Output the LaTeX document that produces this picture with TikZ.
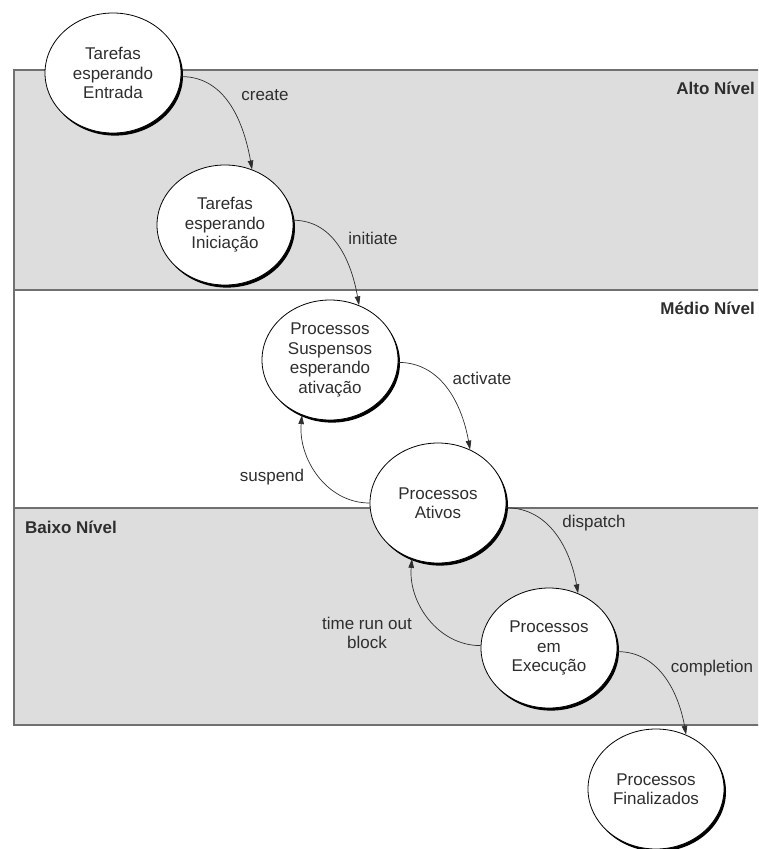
\documentclass[tikz,border=0pt]{standalone}
\usepackage{fontspec}
\setmainfont{Liberation Sans}
\usetikzlibrary{shapes.geometric,arrows.meta,shadows}
\definecolor{bandgray}{HTML}{DDDDDD}
\definecolor{rulegray}{HTML}{707070}
\definecolor{ink}{HTML}{2E2E2E}

\tikzset{
  state/.style={ellipse, draw=black, line width=0.8pt, fill=white,
    minimum width=136pt, minimum height=120pt, inner sep=0pt,
    align=center, text=ink, font=\fontsize{17}{19.5}\selectfont,
    drop shadow={shadow xshift=2pt, shadow yshift=-2.6pt, opacity=1, fill=black}},
  conn/.style={draw=ink, line width=0.7pt, -{Triangle[length=9pt,width=5.5pt]}},
  lab/.style={text=ink, inner sep=0pt, align=center, font=\fontsize{17}{19}\selectfont},
  level/.style={text=ink, inner sep=0pt, font=\fontsize{17}{19}\selectfont\bfseries},
  bandrule/.style={draw=rulegray, line width=1.6pt}
}

\begin{document}
\begin{tikzpicture}[x=1pt, y=-1pt]
  \useasboundingbox (0,0) rectangle (758,849);
  \clip (0,0) rectangle (758,849);

  % the three levels
  \fill[bandgray] (14,70) rectangle (770,290);
  \fill[bandgray] (14,508) rectangle (770,725);
  \draw[bandrule] (770,70) -- (14,70) -- (14,725) -- (770,725);
  \draw[bandrule] (14,290) -- (770,290);
  \draw[bandrule] (14,508) -- (770,508);

  \node[level, anchor=east] (alto)  at (755,88)  {Alto Nível};
  \node[level, anchor=east] (medio) at (755,308) {Médio Nível};
  \node[level, anchor=west] (baixo) at (25,527)  {Baixo Nível};

  % states
  \node[state] (entrada)  at (113,73)  {Tarefas\\esperando\\Entrada};
  \node[state] (inicia)   at (225,225) {Tarefas\\esperando\\Iniciação};
  \node[state] (suspenso) at (330,360) {Processos\\Suspensos\\esperando\\ativação};
  \node[state] (ativo)    at (438,503) {Processos\\Ativos};
  \node[state] (execucao) at (549,648) {Processos\\em\\Execução};
  \node[state] (final)    at (656,789) {Processos\\Finalizados};

  % transitions
  \draw[conn] (entrada.-3)  to[out=0, in=100] (inicia.64);
  \draw[conn] (inicia.4)    to[out=0, in=100] (suspenso.62);
  \draw[conn] (suspenso.-2) to[out=0, in=100] (ativo.59);
  \draw[conn] (ativo.-4)    to[out=0, in=100] (execucao.62);
  \draw[conn] (execucao.-3) to[out=0, in=100] (final.61);
  \draw[conn] (ativo.180)   to[out=180, in=-95] (suspenso.-117);
  \draw[conn] (execucao.178) to[out=180, in=-95] (ativo.-115);

  % transition labels
  \node[lab] (lcreate)   at (265,95)  {create};
  \node[lab] (linit)     at (373,238) {initiate};
  \node[lab] (lactivate) at (482,378) {activate};
  \node[lab] (lsuspend)  at (272,477) {suspend};
  \node[lab] (ldispatch) at (594,523) {dispatch};
  \node[lab] (ltime)     at (367,633) {time run out\\block};
  \node[lab] (lcomplete) at (712,668) {completion};
\end{tikzpicture}
\end{document}
